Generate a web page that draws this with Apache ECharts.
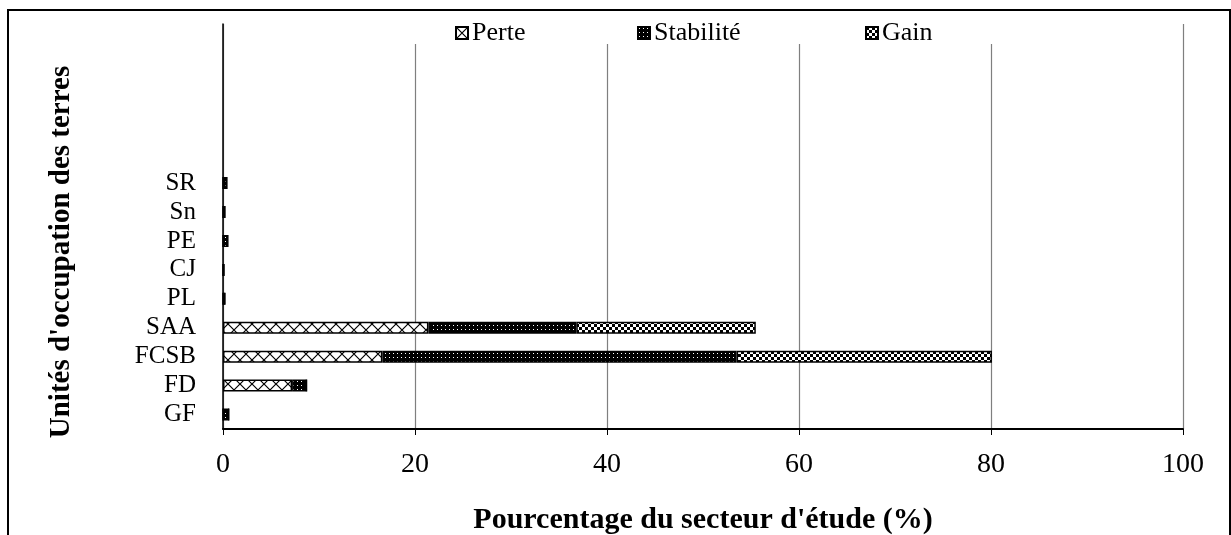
<!DOCTYPE html>
<html>
<head>
<meta charset="utf-8">
<script src="https://cdn.jsdelivr.net/npm/echarts@6/dist/echarts.min.js"></script>
<style>
  html, body { margin: 0; padding: 0; background: #fff; overflow: hidden; }
  #main { position: absolute; left: 0; top: 0; width: 1231px; height: 535px; }
  #frame { position: absolute; left: 7px; top: 9px; width: 1220px; height: 600px;
           border: 2px solid #000; pointer-events: none; }
</style>
</head>
<body>
<div id="main"></div>
<div id="frame"></div>
<script>
// categories from bottom to top, empty slots keep the upper part of the plot blank
var categories = ['GF', 'FD', 'FCSB', 'SAA', 'PL', 'CJ', 'PE', 'Sn', 'SR', '', '', '', '', ''];
var perte     = [0,   7.2, 16.6, 21.4, 0,   0,   0,   0,   0];
var stabilite = [0.6, 1.5, 36.9, 15.4, 0.2, 0.1, 0.5, 0.2, 0.4];
var gain      = [0,   0,   26.6, 18.7, 0,   0,   0,   0,   0];
var xTicks = [0, 20, 40, 60, 80, 100];

function makePattern(w, h, draw) {
  var c = document.createElement('canvas');
  c.width = w; c.height = h;
  var ctx = c.getContext('2d');
  draw(ctx, w, h);
  return { image: c, repeat: 'repeat' };
}

var perteFill = makePattern(12, 12, function (ctx, w, h) {
  ctx.fillStyle = '#fff'; ctx.fillRect(0, 0, w, h);
  ctx.strokeStyle = '#000'; ctx.lineWidth = 1.2;
  ctx.beginPath();
  ctx.moveTo(0, 0); ctx.lineTo(w, h);
  ctx.moveTo(w, 0); ctx.lineTo(0, h);
  ctx.stroke();
});
var stabFill = makePattern(4, 4, function (ctx, w, h) {
  ctx.fillStyle = '#000'; ctx.fillRect(0, 0, w, h);
  ctx.fillStyle = '#fff'; ctx.fillRect(1, 1, 1, 1);
});
var gainFill = makePattern(6, 6, function (ctx, w, h) {
  ctx.fillStyle = '#fff'; ctx.fillRect(0, 0, w, h);
  ctx.fillStyle = '#000';
  ctx.fillRect(0, 0, 3, 3); ctx.fillRect(3, 3, 3, 3);
});

var font = 'Liberation Serif';
var dom = document.getElementById('main');
var myChart = echarts.init(dom, null, { renderer: 'canvas' });

function legendAt(name, left) {
  return {
    data: [name], left: left, top: 15, icon: 'rect',
    itemWidth: 12, itemHeight: 12, itemGap: 0,
    textStyle: { fontFamily: font, fontSize: 26, color: '#000', padding: [0, 0, 0, -1] }
  };
}

function barSeries(name, data, fill) {
  return {
    name: name, type: 'bar', stack: 'total', barWidth: 12,
    itemStyle: { color: fill, borderColor: '#000', borderWidth: 1.5 },
    emphasis: { disabled: true },
    data: data
  };
}

var option = {
  animation: false,
  legend: [legendAt('Perte', 450), legendAt('Stabilité', 632), legendAt('Gain', 860)],
  grid: { left: 223, right: 48, top: 24, bottom: 106, outerBoundsMode: 'none', containLabel: false },
  graphic: [
    { type: 'rect', z: 1, shape: { x: 405, y: 12, width: 590, height: 32 }, style: { fill: '#fff' } },
    {
      type: 'text', x: 62, y: 252, rotation: Math.PI / 2,
      style: {
        text: "Unités d'occupation des terres", fontFamily: font, fontWeight: 'bold',
        fontSize: 29, fill: '#000', align: 'center', verticalAlign: 'middle'
      }
    }
  ],
  xAxis: {
    type: 'value', min: xTicks[0], max: xTicks[xTicks.length - 1], interval: 20,
    name: "Pourcentage du secteur d'étude (%)", nameLocation: 'middle', nameGap: 76,
    nameTextStyle: { fontFamily: font, fontWeight: 'bold', fontSize: 30, color: '#000' },
    axisLine: { show: true, lineStyle: { color: '#000', width: 2 } },
    axisTick: { show: true, length: 6, lineStyle: { color: '#000' } },
    axisLabel: { fontFamily: font, fontSize: 28, color: '#000', margin: 22 },
    splitLine: { show: true, lineStyle: { color: '#7f7f7f', width: 1.2 } }
  },
  yAxis: {
    type: 'category', data: categories,
    axisLine: { show: true, lineStyle: { color: '#000', width: 1.5 } },
    axisTick: { show: false },
    axisLabel: { interval: 0, fontFamily: font, fontSize: 25, color: '#000', margin: 27 },
    splitLine: { show: false }
  },
  series: [
    barSeries('Perte', perte, perteFill),
    barSeries('Stabilité', stabilite, stabFill),
    barSeries('Gain', gain, gainFill)
  ]
};

myChart.setOption(option);
window.addEventListener('resize', myChart.resize);
</script>
</body>
</html>
